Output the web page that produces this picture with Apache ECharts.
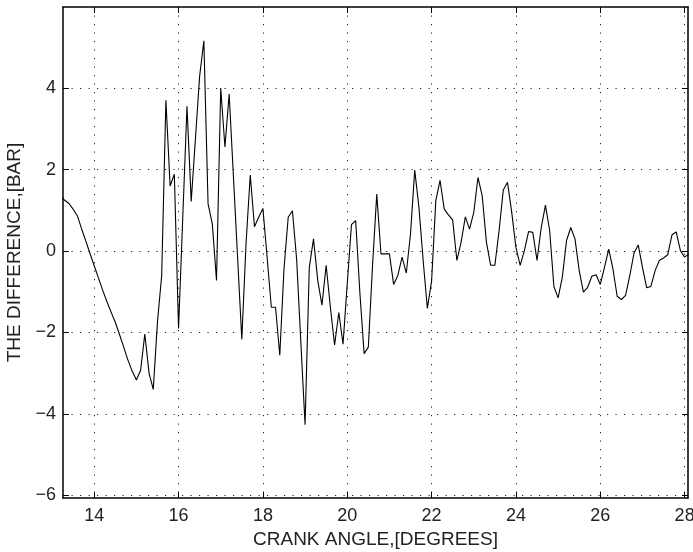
<!DOCTYPE html>
<html>
<head>
<meta charset="utf-8">
<script src="https://cdn.jsdelivr.net/npm/echarts@6/dist/echarts.min.js"></script>
<style>html,body{margin:0;padding:0;background:#fff;}#chart{width:693px;height:552px;}</style>
</head>
<body>
<div id="chart"></div>
<script>
// Crank angle samples (degrees)
const crankAngle = [
13.2,13.3,13.4,13.5,13.6,13.7,13.8,13.9,14.0,14.1,14.2,14.3,14.4,14.5,14.6,14.7,14.8,14.9,
15.0,15.1,15.2,15.3,15.4,15.5,15.6,15.7,15.8,15.9,16.0,16.1,16.2,16.3,16.4,16.5,16.6,16.7,16.8,16.9,
17.0,17.1,17.2,17.3,17.4,17.5,17.6,17.7,17.8,17.9,18.0,18.1,18.2,18.3,18.4,18.5,18.6,18.7,18.8,18.9,
19.0,19.1,19.2,19.3,19.4,19.5,19.6,19.7,19.8,19.9,20.0,20.1,20.2,20.3,20.4,20.5,20.6,20.7,20.8,20.9,
21.0,21.1,21.2,21.3,21.4,21.5,21.6,21.7,21.8,21.9,22.0,22.1,22.2,22.3,22.4,22.5,22.6,22.7,22.8,22.9,
23.0,23.1,23.2,23.3,23.4,23.5,23.6,23.7,23.8,23.9,24.0,24.1,24.2,24.3,24.4,24.5,24.6,24.7,24.8,24.9,
25.0,25.1,25.2,25.3,25.4,25.5,25.6,25.7,25.8,25.9,26.0,26.1,26.2,26.3,26.4,26.5,26.6,26.7,26.8,26.9,
27.0,27.1,27.2,27.3,27.4,27.5,27.6,27.7,27.8,27.9,28.0,28.1
];
// Pressure difference (bar)
const difference = [
1.33,1.25,1.17,1.03,0.87,0.55,0.25,-0.06,-0.36,-0.66,-0.96,-1.24,-1.5,-1.75,-2.05,-2.36,-2.68,-2.95,
-3.17,-2.93,-2.04,-3.0,-3.40,-1.74,-0.6,3.71,1.60,1.89,-1.9,0.83,3.56,1.22,2.76,4.30,5.17,1.16,0.67,-0.72,
4.01,2.56,3.86,1.85,-0.16,-2.17,0.18,1.87,0.60,0.83,1.05,-0.15,-1.38,-1.38,-2.56,-0.44,0.83,0.99,-0.2,-2.25,
-4.27,-0.40,0.30,-0.72,-1.33,-0.35,-1.38,-2.31,-1.51,-2.29,-0.8,0.65,0.75,-1.03,-2.52,-2.36,-0.35,1.40,-0.07,-0.07,
-0.07,-0.82,-0.60,-0.15,-0.54,0.42,1.99,1.07,-0.23,-1.41,-0.74,1.24,1.74,1.03,0.89,0.76,-0.23,0.22,0.84,0.54,
0.95,1.81,1.36,0.22,-0.35,-0.35,0.50,1.50,1.69,0.95,0.09,-0.35,0.01,0.48,0.46,-0.23,0.58,1.13,0.50,-0.87,
-1.15,-0.64,0.26,0.58,0.30,-0.48,-1.01,-0.89,-0.62,-0.58,-0.82,-0.40,0.05,-0.44,-1.11,-1.19,-1.09,-0.60,-0.05,0.15,
-0.40,-0.90,-0.87,-0.48,-0.23,-0.17,-0.09,0.40,0.47,0.01,-0.15,-0.07
];
const xTicks = [14, 16, 18, 20, 22, 24, 26, 28];
const yTicks = [-6, -4, -2, 0, 2, 4];

const xRange = [13.26, 28.08];
const yRange = [-6.07, 6];

const fontFamily = '"Liberation Sans", Arial, Helvetica, sans-serif';
const fmt = v => String(v).replace('-', '\u2212');

const gridLineStyle = { color: '#222', width: 1, type: [1.2, 7.3] };
const axisLineStyle = { color: '#000', width: 1.5 };

const chart = echarts.init(document.getElementById('chart'), null, { renderer: 'canvas' });
chart.setOption({
  animation: false,
  backgroundColor: '#fff',
  grid: { left: 63, right: 5, top: 7, bottom: 54, containLabel: false, outerBoundsMode: 'none' },
  xAxis: [{
    type: 'value', position: 'bottom', min: xRange[0], max: xRange[1],
    name: 'CRANK ANGLE,[DEGREES]', nameLocation: 'middle', nameGap: 30,
    nameTextStyle: { fontFamily, fontSize: 19, color: '#222' },
    axisLine: { show: true, onZero: false, lineStyle: axisLineStyle },
    axisTick: { show: true, inside: true, length: 6, customValues: xTicks, lineStyle: { color: '#000', width: 1 } },
    axisLabel: { show: true, customValues: xTicks, formatter: fmt, fontFamily, fontSize: 18, color: '#222', margin: 9 },
    splitLine: { show: true, lineStyle: gridLineStyle }
  }, {
    type: 'value', position: 'top', min: xRange[0], max: xRange[1],
    axisLine: { show: true, onZero: false, lineStyle: axisLineStyle },
    axisTick: { show: true, inside: true, length: 6, customValues: xTicks, lineStyle: { color: '#000', width: 1 } },
    axisLabel: { show: false },
    splitLine: { show: false }
  }],
  yAxis: [{
    type: 'value', position: 'left', min: yRange[0], max: yRange[1],
    name: 'THE DIFFERENCE,[BAR]', nameLocation: 'middle', nameGap: 38, nameRotate: 90,
    nameTextStyle: { fontFamily, fontSize: 19, color: '#222' },
    axisLine: { show: true, onZero: false, lineStyle: axisLineStyle },
    axisTick: { show: true, inside: true, length: 6, customValues: yTicks, lineStyle: { color: '#000', width: 1 } },
    axisLabel: { show: true, customValues: yTicks, formatter: fmt, fontFamily, fontSize: 18, color: '#222', margin: 7 },
    splitLine: { show: true, lineStyle: gridLineStyle }
  }, {
    type: 'value', position: 'right', min: yRange[0], max: yRange[1],
    axisLine: { show: true, onZero: false, lineStyle: axisLineStyle },
    axisTick: { show: true, inside: true, length: 6, customValues: yTicks, lineStyle: { color: '#000', width: 1 } },
    axisLabel: { show: false },
    splitLine: { show: false }
  }],
  series: [{
    type: 'line',
    xAxisIndex: 0, yAxisIndex: 0,
    data: crankAngle.map((a, i) => [a, difference[i]]),
    showSymbol: false,
    clip: true,
    lineStyle: { color: '#000', width: 1.1 },
    itemStyle: { color: '#000' }
  }]
});
</script>
</body>
</html>
